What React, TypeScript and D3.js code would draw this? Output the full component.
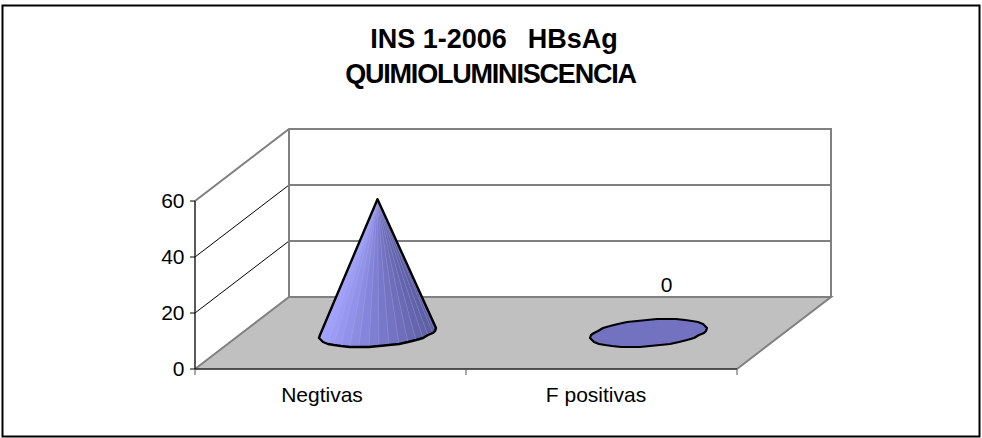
import React from "react";
import * as d3 from "d3";

const titleLines = ["INS 1-2006  HBsAg", "QUIMIOLUMINISCENCIA"];
const categories = ["Negtivas", "F positivas"];
const seriesValues = [47.8, 0];
const dataLabels = ["", "0"];
const yTicks = [0, 20, 40, 60];

const W = 982, H = 438;
const FONT = "'Liberation Sans', Arial, sans-serif";
const x0 = 195, x1 = 737, yBase = 369, yTop = 201;
const dx = 94, dy = -72;

const x = d3.scaleBand<string>().domain(categories).range([x0, x1]);
const y = d3.scaleLinear().domain([0, 60]).range([yBase, yTop]);
const shade = d3.scaleLinear<string>().domain([0, 0.5, 1]).range(["#a4a4ff", "#7c7cd0", "#5c5ca0"]);

const path = (pts: [number, number][], close = true) =>
  d3.line().x(p => p[0]).y(p => p[1])(pts) + (close ? "Z" : "");

function baseRing(cx: number, cy: number): [number, number][] {
  const pts: [number, number][] = [];
  const n = 36;
  for (let i = 0; i < n; i++) {
    const t = (i / n) * 2 * Math.PI;
    pts.push([
      Math.round(cx + 55 * Math.cos(t) + 18.5 * Math.sin(t)),
      Math.round(cy - 14 * Math.sin(t)),
    ]);
  }
  return pts;
}

function Cone({ cat, value }: { cat: string; value: number }) {
  const cx = x(cat)! + x.bandwidth() / 2 + dx / 2;
  const cy = yBase + dy / 2;
  const ring = baseRing(cx, cy);
  if (value === 0) {
    return <path d={path(ring)} fill="#7272c0" stroke="#000" strokeWidth={2.2} strokeLinejoin="round" />;
  }
  const apex: [number, number] = [cx, cy - (yBase - y(value))];
  const angle = (p: [number, number]) => Math.atan2(p[0] - apex[0], p[1] - apex[1]);
  const leftIdx = d3.leastIndex(ring, (a, b) => angle(a) - angle(b))!;
  const rightIdx = d3.greatestIndex(ring, angle)!;
  const arc: [number, number][] = [];
  for (let i = leftIdx; ; i = (i + 1) % ring.length) {
    arc.push(ring[i]);
    if (i === rightIdx) break;
  }
  const outline: [number, number][] = [apex, ...arc];
  const minX = d3.min(ring, p => p[0])!, maxX = d3.max(ring, p => p[0])!;
  const facets = arc.slice(0, -1).map((p, i) => ({ p, q: arc[i + 1] }));
  return (
    <g>
      <path d={path(outline)} fill="#8484d8" />
      {facets.map((s, i) => (
        <path
          key={i}
          d={path([apex, s.p, s.q])}
          fill={shade(((s.p[0] + s.q[0]) / 2 - minX) / (maxX - minX))}
          stroke="#c8c8f0"
          strokeOpacity={0.25}
          strokeWidth={0.6}
        />
      ))}
      <path d={path(outline)} fill="none" stroke="#000" strokeWidth={2.4} strokeLinejoin="round" />
    </g>
  );
}

export default function App() {
  const [titleA, titleB] = titleLines[0].split("  ");
  return (
    <svg width={W} height={H} viewBox={`0 0 ${W} ${H}`} style={{ position: "absolute", left: 0, top: 0 }}>
      <rect x={0} y={0} width={W} height={H} fill="#fff" />
      <rect x={2.5} y={5.5} width={977} height={431} fill="#fff" stroke="#000" strokeWidth={2} />
      <text x={494} y={47.5} textAnchor="middle" fontFamily={FONT} fontWeight="bold" fontSize={27} fill="#000" style={{ whiteSpace: "pre" }}>
        <tspan>{titleA + "  "}</tspan>
        <tspan dx={6}>{titleB}</tspan>
      </text>
      <text x={490.5} y={83} textAnchor="middle" fontFamily={FONT} fontWeight="bold" fontSize={27} letterSpacing={-1.2} fill="#000">{titleLines[1]}</text>

      {/* floor */}
      <path d={path([[x0, yBase], [x1, yBase], [x1 + dx, yBase + dy], [x0 + dx, yBase + dy]])} fill="#c0c0c0" />

      {/* gridlines */}
      {yTicks.filter(v => v > 0 && v < 60).map(v => (
        <path key={v} d={path([[x0, y(v)], [x0 + dx, y(v) + dy], [x1 + dx, y(v) + dy]], false)} fill="none" stroke="#000" strokeWidth={1} />
      ))}

      {/* walls */}
      <path d={path([[x0, yBase], [x0 + dx, yBase + dy], [x1 + dx, yBase + dy], [x1, yBase]], false)} fill="none" stroke="#808080" strokeWidth={2} />
      <path d={path([[x0, y(60)], [x0 + dx, y(60) + dy], [x1 + dx, y(60) + dy], [x1 + dx, yBase + dy]], false)} fill="none" stroke="#808080" strokeWidth={2} />
      <line x1={x0 + dx} x2={x0 + dx} y1={y(60) + dy} y2={yBase + dy} stroke="#808080" strokeWidth={2} />

      {/* axes */}
      <line x1={x0} x2={x0} y1={y(60)} y2={yBase} stroke="#222" strokeWidth={1.5} />
      <line x1={x0} x2={x1} y1={yBase} y2={yBase} stroke="#222" strokeWidth={1.5} />
      {yTicks.map(v => (
        <g key={v}>
          <line x1={x0 - 5} x2={x0} y1={y(v)} y2={y(v)} stroke="#000" strokeWidth={1} />
          <text x={184.5} y={y(v) + 7} textAnchor="end" fontFamily={FONT} fontSize={21} fill="#000">{v}</text>
        </g>
      ))}
      {[x0, x0 + x.bandwidth(), x1].map(v => (
        <line key={v} x1={v} x2={v} y1={yBase} y2={yBase + 6} stroke="#555" strokeWidth={1} />
      ))}
      {categories.map((c, i) => (
        <text key={c} x={x(c)! + x.bandwidth() / 2 + (i === 0 ? -8.5 : -5.5)} y={401.5} textAnchor="middle" fontFamily={FONT} fontSize={21} fill="#000">{c}</text>
      ))}

      {/* cones */}
      {categories.map((c, i) => <Cone key={c} cat={c} value={seriesValues[i]} />)}
      {categories.map((c, i) => dataLabels[i] ? (
        <text key={c} x={x(c)! + x.bandwidth() / 2 + dx / 2 + 18} y={291.5} textAnchor="middle" fontFamily={FONT} fontSize={21} fill="#000">{dataLabels[i]}</text>
      ) : null)}
    </svg>
  );
}
